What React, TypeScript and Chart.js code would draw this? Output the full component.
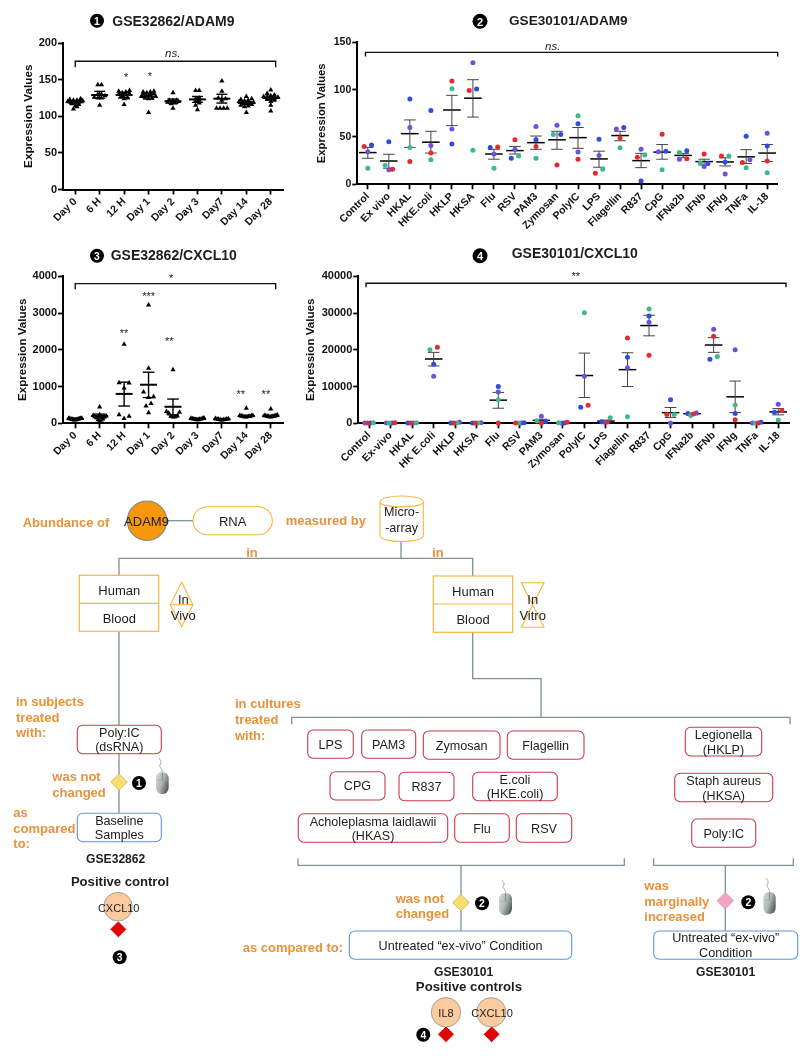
import React, { useEffect, useRef } from "react";
import { Chart, registerables } from "chart.js";

Chart.register(...registerables);

const FONT = "'Liberation Sans', Arial, sans-serif";
const ORANGE = "#E8923A";
const BOX_OR = "#F5B73C";
const BOX_RED = "#C93A48";
const BOX_BLUE = "#5E97DE";
const LINK = "#7F9296";
const DARK = "#1d1d1d";

// ---------- data ----------
const dayLabels = ["Day 0", "6 H", "12 H", "Day 1", "Day 2", "Day 3", "Day7", "Day 14", "Day 28"];

const adam9ByDay = [
  [124, 123, 122, 122, 121, 120, 120, 119, 118, 118, 117, 116, 114, 113, 110],
  [143, 143, 130, 130, 128, 126, 125, 125, 115],
  [135, 134, 133, 132, 131, 130, 129, 128, 126, 125, 124, 116],
  [134, 133, 133, 132, 131, 130, 129, 128, 127, 127, 126, 125, 124, 105],
  [132, 122, 122, 121, 120, 119, 118, 117, 111],
  [135, 135, 125, 124, 122, 120, 118, 115, 109],
  [148, 134, 125, 124, 122, 111, 111, 111, 111],
  [127, 124, 123, 122, 121, 120, 119, 118, 118, 117, 116, 115, 114, 113, 105],
  [136, 131, 129, 128, 127, 126, 126, 125, 124, 123, 122, 120, 115, 107],
];
const adam9DayMean = [119, 129, 129, 127, 120.5, 123, 124, 118, 125];
const adam9DayLow = [117, 124.7, 125.5, 123.5, 117.5, 119, 118, 116, 122.5];
const adam9DayHigh = [121, 134, 132.5, 130.5, 123.5, 127, 130, 120, 127.5];

const cxcl10ByDay = [
  [140, 135, 130, 125, 125, 120, 115, 110, 105, 100, 95, 90],
  [445, 230, 210, 200, 180, 170, 150, 120, 100, 90, 60],
  [2150, 1105, 1100, 960, 230, 190, 130],
  [3220, 1500, 850, 720, 700, 540, 470, 290],
  [1460, 320, 300, 280, 200, 190, 180, 170],
  [145, 135, 130, 125, 120, 115, 110, 105, 100, 95],
  [130, 125, 120, 115, 110, 105, 100, 95, 90],
  [410, 215, 210, 205, 200, 195, 190, 185, 180, 175, 170],
  [390, 225, 215, 210, 205, 200, 195, 190, 185, 180, 170],
];
const cxcl10DayMean = [120, 200, 800, 1050, 450, 120, 110, 195, 195];
const cxcl10DayLow = [105, 150, 470, 700, 230, 105, 95, 180, 180];
const cxcl10DayHigh = [135, 250, 1120, 1390, 660, 135, 125, 210, 210];

const adam9Stim = ["Control", "Ex vivo", "HKAL", "HKE.coli", "HKLP", "HKSA", "Flu", "RSV", "PAM3", "Zymosan", "PolyIC", "LPS", "Flagellin", "R837", "CpG", "IFNa2b", "IFNb", "IFNg", "TNFa", "IL-18"];
const adam9Red = [40, 16, 24, 33, 109, 99, 39.5, 47, 40, 20.5, 26.5, 11.6, 49, 28.5, 53, 27, 32, 30, 23, 24.6];
const adam9Green = [17, 20, 39, 26, 101, 36, 17, 30, 27.5, 52.5, 72.5, 16, 38.5, 31, 15.5, 33.5, 22.5, 30, 17.6, 12.3];
const adam9Blue = [41.5, 45, 90, 78, 42.6, 100.7, 39, 27.5, 47, 52.5, 64, 47.5, 60, 3.5, 35, 35.5, 22, 23.6, 50.7, 40.5];
const adam9Purple = [34.5, 15.5, 60, 41, 58.5, 128.5, 32, 37, 61, 62.5, 34, 30.5, 58.5, 37, 34.5, 26.5, 18.7, 11, 26, 54];
const adam9StimMean = [33.5, 24.6, 53.5, 44.5, 78.5, 91, 32, 35.6, 44, 47, 49.3, 26.8, 51.5, 25, 34, 30.5, 24, 23.6, 29, 33];
const adam9StimLow = [27.5, 17, 39, 33, 62, 71, 26.5, 32, 37, 37, 38, 18, 46, 17.6, 26.5, 28, 20.4, 19.4, 22, 24];
const adam9StimHigh = [39, 31.7, 68, 56, 94, 110.5, 37, 40, 51, 56, 60, 35, 56, 32.7, 42, 32.7, 26.5, 28, 36.6, 42];

const cxclStim = ["Control", "Ex-vivo", "HKAL", "HK E.coli", "HKLP", "HKSA", "Flu", "RSV", "PAM3", "Zymosan", "PolyIC", "LPS", "Flagellin", "R837", "CpG", "IFNa2b", "IFNb", "IFNg", "TNFa", "IL-18"];
const cxclRed = [50, 150, 60, 20700, 50, 50, 100, 100, 100, 300, 4900, 350, 23200, 18500, 2400, 2500, 23700, 1000, 80, 3500];
const cxclGreen = [150, 60, 120, 20000, 100, 60, 6400, 50, 600, 150, 30100, 1500, 1800, 31100, 2400, 2100, 18200, 5000, 60, 900];
const cxclBlue = [80, 80, 100, 16100, 100, 100, 10000, 150, 500, 100, 4400, 400, 18000, 29200, 6400, 2700, 17400, 2700, 300, 3000];
const cxclPurple = [100, 100, 80, 12800, 300, 150, 8500, 60, 1900, 60, 12800, 300, 15100, 27500, 100, 2800, 25600, 20000, 100, 5200];
const cxclMean = [90, 100, 90, 17500, 140, 90, 6300, 90, 800, 150, 13000, 600, 14600, 26600, 2900, 2600, 21300, 7200, 130, 3100];
const cxclLow = [70, 80, 70, 15600, 80, 70, 4100, 70, 400, 80, 7000, 350, 10000, 23800, 1600, 2350, 19300, 2900, 70, 2300];
const cxclHigh = [110, 120, 110, 19300, 200, 110, 8400, 110, 1100, 220, 19100, 850, 19200, 29400, 4300, 2800, 23300, 11500, 190, 4000];

// ---------- chart helpers ----------
type Note = { x: number; y: number; text: string; font: string };

const RED = "#E42A2E";
const GREEN = "#3DB88F";
const BLUE = "#2F4BE0";
const PURPLE = "#6F50DC";

function swarmOffsets(values: number[], windowUnits: number, stepMax: number, maxWidth: number) {
  const order = values.map((v, i) => ({ v, i })).sort((a, b) => a.v - b.v);
  const out = new Array(values.length).fill(0);
  let k = 0;
  while (k < order.length) {
    let e = k;
    while (e + 1 < order.length && order[e + 1].v - order[k].v <= windowUnits) e++;
    const n = e - k + 1;
    if (n > 1) {
      const step = Math.min(stepMax, maxWidth / (n - 1));
      // slots fill from the centre outwards so a band stays level instead of tilting
      const mid = Math.floor((n - 1) / 2);
      for (let j = 0; j < n; j++) {
        const d = Math.ceil(j / 2);
        const slot = j % 2 === 1 ? mid + d : mid - d;
        out[order[k + j].i] = (slot - (n - 1) / 2) * step;
      }
    }
    k = e + 1;
  }
  return out;
}

type Spec = {
  rect: { left: number; top: number; width: number; height: number };
  plot: { l: number; r: number; t: number; b: number };
  labels: string[];
  yMax: number;
  yStep: number;
  titleSize: number;
  tickSize: number;
  xTickSize: number;
  groups: { color: string; style: string; radius: number; perCat: number[][] }[];
  swarm: { px: number; stepMax: number; maxWidth: number };
  mean: number[];
  low: number[];
  high: number[];
  bracket: { x: number; y: number }[];
  notes: Note[];
  stem: { color: string; width: number };
  meanWidth: number;
  meanRadius: number;
  capRadius: number;
};

function buildDatasets(s: Spec) {
  const catPx = (s.plot.r - s.plot.l) / s.labels.length;
  const unitsPerPx = s.yMax / (s.plot.b - s.plot.t);
  const base = { clip: false as const, showLine: false };
  const sets: any[] = [];

  sets.push({ ...base, showLine: true, data: s.bracket, borderColor: "#111", borderWidth: 1.4, pointRadius: 0, tension: 0 });

  const layouts = s.labels.map((_, c) => {
    const all: { g: number; v: number }[] = [];
    s.groups.forEach((g, gi) => g.perCat[c].forEach((v) => all.push({ g: gi, v })));
    const offs = swarmOffsets(all.map((a) => a.v), s.swarm.px * unitsPerPx, s.swarm.stepMax, s.swarm.maxWidth);
    return all.map((a, i) => ({ g: a.g, x: c + offs[i] / catPx, y: a.v }));
  });
  s.groups.forEach((g, gi) => {
    sets.push({
      ...base,
      data: layouts.flat().filter((p) => p.g === gi).map((p) => ({ x: p.x, y: p.y })),
      backgroundColor: g.color,
      borderWidth: 0,
      pointBorderWidth: 0,
      pointStyle: g.style,
      pointRadius: g.radius,
    });
  });

  const stems: any[] = [];
  s.labels.forEach((_, i) => {
    stems.push({ x: i, y: s.low[i] }, { x: i, y: s.high[i] }, { x: i, y: null });
  });
  sets.push({ ...base, showLine: true, spanGaps: false, data: stems, borderColor: s.stem.color, borderWidth: s.stem.width, pointRadius: 0 });

  sets.push({
    ...base,
    data: s.labels.flatMap((_, i) => [{ x: i, y: s.low[i] }, { x: i, y: s.high[i] }]),
    pointStyle: "line",
    pointRadius: s.capRadius,
    pointBorderWidth: s.stem.width,
    pointBorderColor: s.stem.color,
  });

  sets.push({
    ...base,
    data: s.labels.map((_, i) => ({ x: i, y: s.mean[i] })),
    pointStyle: "line",
    pointRadius: s.meanRadius,
    pointBorderWidth: s.meanWidth,
    pointBorderColor: "#000",
  });
  return sets;
}

const notesPlugin = {
  id: "notes",
  afterDatasetsDraw(chart: any, _a: any, opts: any) {
    const { ctx, scales } = chart;
    ctx.save();
    ctx.fillStyle = "#222";
    ctx.textAlign = "center";
    ctx.textBaseline = "middle";
    (opts.items || []).forEach((n: Note) => {
      ctx.font = n.font;
      ctx.fillText(n.text, scales.x.getPixelForValue(n.x), scales.y.getPixelForValue(n.y));
    });
    ctx.restore();
  },
};

function makeChart(canvas: HTMLCanvasElement, s: Spec) {
  const xH = s.rect.top + s.rect.height - s.plot.b;
  const yW = s.plot.l - s.rect.left;
  return new Chart(canvas, {
    type: "scatter",
    data: { datasets: buildDatasets(s) },
    plugins: [notesPlugin],
    options: {
      responsive: false,
      animation: false,
      devicePixelRatio: 1,
      layout: {
        padding: {
          top: s.plot.t - s.rect.top,
          right: s.rect.left + s.rect.width - s.plot.r,
          left: 0,
          bottom: 0,
        },
      },
      plugins: { legend: { display: false }, tooltip: { enabled: false }, title: { display: false }, notes: { items: s.notes } } as any,
      scales: {
        x: {
          type: "linear",
          min: -0.5,
          max: s.labels.length - 0.5,
          afterBuildTicks: (scale: any) => {
            scale.ticks = s.labels.map((_, i) => ({ value: i }));
          },
          afterFit: (scale: any) => {
            scale.height = xH;
          },
          grid: { drawOnChartArea: false, drawTicks: true, tickLength: 5, tickWidth: 1.8, tickColor: "#000" },
          border: { color: "#000", width: 2 },
          ticks: {
            autoSkip: false,
            maxRotation: 45,
            minRotation: 45,
            padding: 1,
            color: "#111",
            font: { family: FONT, size: s.xTickSize, weight: "bold" },
            callback: (v: any) => s.labels[Math.round(Number(v))] ?? "",
          },
        },
        y: {
          type: "linear",
          min: 0,
          max: s.yMax,
          afterFit: (scale: any) => {
            scale.width = yW;
          },
          grid: { drawOnChartArea: false, drawTicks: true, tickLength: 5, tickWidth: 1.8, tickColor: "#000" },
          border: { color: "#000", width: 2 },
          title: {
            display: true,
            text: "Expression Values",
            color: "#111",
            padding: 0,
            font: { family: FONT, size: s.titleSize, weight: "bold" },
          },
          ticks: {
            stepSize: s.yStep,
            padding: 1,
            color: "#111",
            font: { family: FONT, size: s.tickSize, weight: "bold" },
            callback: (v: any) => String(v),
          },
        },
      },
    } as any,
  });
}

const tri = (perCat: number[][]) => [{ color: "#000", style: "triangle", radius: 3, perCat }];
const dots = (r: number[], g: number[], b: number[], p: number[]) => [
  { color: RED, style: "circle", radius: 2.5, perCat: r.map((v) => [v]) },
  { color: GREEN, style: "circle", radius: 2.5, perCat: g.map((v) => [v]) },
  { color: BLUE, style: "circle", radius: 2.5, perCat: b.map((v) => [v]) },
  { color: PURPLE, style: "circle", radius: 2.5, perCat: p.map((v) => [v]) },
];

const NOTE_STAR = `11px ${FONT}`;
const NOTE_NS = `italic 11.5px ${FONT}`;

const specs: Spec[] = [
  {
    rect: { left: 22, top: 31, width: 276, height: 204 },
    plot: { l: 63, r: 283, t: 43, b: 189.5 },
    labels: dayLabels, yMax: 200, yStep: 50, titleSize: 11.7, tickSize: 11, xTickSize: 10.5,
    groups: tri(adam9ByDay),
    swarm: { px: 2.5, stepMax: 3.6, maxWidth: 15 },
    mean: adam9DayMean, low: adam9DayLow, high: adam9DayHigh,
    bracket: [{ x: 0, y: 167 }, { x: 0, y: 175 }, { x: 8.2, y: 175 }, { x: 8.2, y: 167 }],
    notes: [
      { x: 3.99, y: 185, text: "ns.", font: NOTE_NS },
      { x: 2.08, y: 152, text: "*", font: NOTE_STAR },
      { x: 3.05, y: 154, text: "*", font: NOTE_STAR },
    ],
    stem: { color: "#000", width: 1.4 }, meanWidth: 2, meanRadius: 8.5, capRadius: 5.5,
  },
  {
    rect: { left: 315, top: 30, width: 478, height: 210 },
    plot: { l: 357.3, r: 777.7, t: 42.3, b: 184.3 },
    labels: adam9Stim, yMax: 150, yStep: 50, titleSize: 11.3, tickSize: 10.5, xTickSize: 10.5,
    groups: dots(adam9Red, adam9Green, adam9Blue, adam9Purple),
    swarm: { px: 4.5, stepMax: 7.4, maxWidth: 7.4 },
    mean: adam9StimMean, low: adam9StimLow, high: adam9StimHigh,
    bracket: [{ x: -0.11, y: 135 }, { x: -0.11, y: 139.4 }, { x: 19.5, y: 139.4 }, { x: 19.5, y: 135 }],
    notes: [{ x: 8.8, y: 145, text: "ns.", font: NOTE_NS }],
    stem: { color: "#444", width: 1 }, meanWidth: 1.5, meanRadius: 8.8, capRadius: 5.8,
  },
  {
    rect: { left: 16, top: 264, width: 282, height: 214 },
    plot: { l: 63, r: 283, t: 276.3, b: 423.3 },
    labels: dayLabels, yMax: 4000, yStep: 1000, titleSize: 11.6, tickSize: 11, xTickSize: 10.5,
    groups: tri(cxcl10ByDay),
    swarm: { px: 6, stepMax: 5, maxWidth: 13 },
    mean: cxcl10DayMean, low: cxcl10DayLow, high: cxcl10DayHigh,
    bracket: [{ x: 0, y: 3650 }, { x: 0, y: 3800 }, { x: 8.2, y: 3800 }, { x: 8.2, y: 3650 }],
    notes: [
      { x: 3.92, y: 3920, text: "*", font: NOTE_STAR },
      { x: 2, y: 2440, text: "**", font: NOTE_STAR },
      { x: 3, y: 3440, text: "***", font: NOTE_STAR },
      { x: 3.85, y: 2200, text: "**", font: NOTE_STAR },
      { x: 6.77, y: 770, text: "**", font: NOTE_STAR },
      { x: 7.8, y: 770, text: "**", font: NOTE_STAR },
    ],
    stem: { color: "#000", width: 1.4 }, meanWidth: 2, meanRadius: 8.5, capRadius: 5.8,
  },
  {
    rect: { left: 304, top: 264, width: 500, height: 214 },
    plot: { l: 358.3, r: 789, t: 276.3, b: 423.3 },
    labels: cxclStim, yMax: 40000, yStep: 10000, titleSize: 11.6, tickSize: 11, xTickSize: 10.5,
    groups: dots(cxclRed, cxclGreen, cxclBlue, cxclPurple),
    swarm: { px: 4.5, stepMax: 7.4, maxWidth: 8.5 },
    mean: cxclMean, low: cxclLow, high: cxclHigh,
    bracket: [{ x: -0.14, y: 37000 }, { x: -0.14, y: 38100 }, { x: 19.36, y: 38100 }, { x: 19.36, y: 37000 }],
    notes: [{ x: 9.6, y: 39800, text: "**", font: NOTE_STAR }],
    stem: { color: "#444", width: 1 }, meanWidth: 1.5, meanRadius: 8.8, capRadius: 5.8,
  },
];

// ---------- diagram helpers ----------
function T(p: { x: number; y: number; s?: number; b?: boolean; c?: string; a?: "start" | "middle" | "end"; children: any }) {
  return (
    <text x={p.x} y={p.y} fontFamily={FONT} fontSize={p.s ?? 13} fontWeight={p.b ? 700 : 400} fill={p.c ?? DARK}
      textAnchor={p.a ?? "middle"} dominantBaseline="central">{p.children}</text>
  );
}
const O = (x: number, y: number, t: string) => <T x={x} y={y} b c={ORANGE} a="start">{t}</T>;

function Num({ x, y, n, d = 14 }: { x: number; y: number; n: number; d?: number }) {
  return (
    <g>
      <circle cx={x} cy={y} r={d / 2} fill="#000" />
      <T x={x} y={y + 0.3} s={d * 0.74} b c="#fff">{n}</T>
    </g>
  );
}

function RBox({ x1, y1, x2, y2, c = BOX_RED, lines }: { x1: number; y1: number; x2: number; y2: number; c?: string; lines: [string, number][] }) {
  return (
    <g>
      <rect x={x1} y={y1} width={x2 - x1} height={y2 - y1} rx={5.5} fill="#fff" stroke={c} strokeWidth={1.1} />
      {lines.map(([t, y], i) => <T key={i} x={(x1 + x2) / 2} y={y} s={12.6}>{t}</T>)}
    </g>
  );
}

function Diamond({ x, y, fill, stroke = "#D9B24A", h = 8.3 }: { x: number; y: number; fill: string; stroke?: string; h?: number }) {
  return <polygon points={`${x},${y - h} ${x + h},${y} ${x},${y + h} ${x - h},${y}`} fill={fill} stroke={stroke} strokeWidth={0.8} />;
}

function Mouse({ x1, x2, y1, y2, wire }: { x1: number; x2: number; y1: number; y2: number; wire: number }) {
  const cx = (x1 + x2) / 2;
  return (
    <g>
      <path d={`M${cx},${y1} C${cx},${y1 - 4} ${cx - 4},${y1 - 5} ${cx - 2},${(y1 + wire) / 2 - 1} S${cx - 3},${wire + 2} ${cx - 3},${wire}`} fill="none" stroke="#8b9598" strokeWidth={0.8} />
      <rect x={x1} y={y1} width={x2 - x1} height={y2 - y1} rx={(x2 - x1) / 2} fill="url(#mouseGrad)" />
      <line x1={cx} y1={y1 + 1} x2={cx} y2={y1 + (y2 - y1) * 0.38} stroke="#6d7678" strokeWidth={0.7} />
      <line x1={x1 + 0.5} y1={y1 + (y2 - y1) * 0.38} x2={x2 - 0.5} y2={y1 + (y2 - y1) * 0.38} stroke="#9aa3a5" strokeWidth={0.5} />
    </g>
  );
}

function Link({ d }: { d: string }) {
  return <path d={d} fill="none" stroke={LINK} strokeWidth={1.3} />;
}

function Diagram() {
  return (
    <svg width={805} height={1060} style={{ position: "absolute", left: 0, top: 0, pointerEvents: "none" }}>
      <defs>
        <linearGradient id="mouseGrad" x1="0" y1="0" x2="1" y2="0.6">
          <stop offset="0" stopColor="#d5dada" />
          <stop offset="0.55" stopColor="#b0b8b8" />
          <stop offset="1" stopColor="#59625f" />
        </linearGradient>
      </defs>

      {/* chart titles */}
      <Num x={97} y={20.7} n={1} />
      <T x={112.3} y={21} s={14} b a="start">GSE32862/ADAM9</T>
      <Num x={480} y={21.3} n={2} d={15} />
      <T x={509} y={20} s={13.6} b a="start">GSE30101/ADAM9</T>
      <Num x={97} y={255.7} n={3} />
      <T x={110.7} y={255} s={14} b a="start">GSE32862/CXCL10</T>
      <Num x={480} y={255.7} n={4} d={15} />
      <T x={511.7} y={253} s={14} b a="start">GSE30101/CXCL10</T>

      {/* links */}
      <Link d="M167,520.7 H193" />
      <Link d="M401,541 V558.3 M119,575.5 V558.3 H472.7 V576" />
      <Link d="M119,631.3 V725.3 M119,753.7 V813.3" />
      <Link d="M472.7,632 V678.7 H541 V717.3" />
      <Link d="M291.7,724.3 V717.3 H790 V724.3" />
      <Link d="M298,858.3 V865.3 H624.3 V858.3" />
      <Link d="M653.7,858.3 V865.3 H793.3 V858.3" />
      <Link d="M461,865.3 V931" />
      <Link d="M725.3,865.3 V931" />

      {/* top row */}
      <circle cx={147} cy={520.7} r={19.7} fill="#F7970C" stroke="#7E8A85" strokeWidth={1.1} />
      <T x={146.5} y={521.5}>ADAM9</T>
      <rect x={193} y={506.7} width={79.3} height={28} rx={14} fill="#fff" stroke={BOX_OR} strokeWidth={1.1} />
      <T x={232.7} y={521.5}>RNA</T>
      {O(22.7, 522, "Abundance of")}
      {O(285.7, 520.7, "measured by")}
      <path d="M380,502 C380,494 423.3,494 423.3,502 V535.5 C423.3,543.5 380,543.5 380,535.5 Z" fill="#fff" stroke={BOX_OR} strokeWidth={1.1} />
      <path d="M380,502 C380,508.5 423.3,508.5 423.3,502" fill="none" stroke={BOX_OR} strokeWidth={1.1} />
      <T x={401.6} y={511.7} s={12.6}>Micro-</T>
      <T x={401.6} y={527.7} s={12.6}>-array</T>
      <T x={252} y={552} b c={ORANGE}>in</T>
      <T x={438} y={552} b c={ORANGE}>in</T>

      {/* Human / Blood left */}
      <rect x={79.3} y={575.3} width={79.4} height={56} fill="#fff" stroke={BOX_OR} strokeWidth={1.2} />
      <line x1={79.3} y1={603.3} x2={158.7} y2={603.3} stroke={BOX_OR} strokeWidth={1.2} />
      <T x={119.3} y={590}>Human</T>
      <T x={119.3} y={618}>Blood</T>
      <polygon points="181.7,582.3 193,604.7 181.7,626.7 170.3,604.7" fill="#fff" stroke={BOX_OR} strokeWidth={1.1} />
      <line x1={170.3} y1={604.7} x2={193} y2={604.7} stroke={BOX_OR} strokeWidth={1.1} />
      <T x={183.3} y={599}>In</T>
      <T x={183.3} y={615}>Vivo</T>

      {/* Human / Blood right */}
      <rect x={433.3} y={576} width={79.4} height={56.3} fill="#fff" stroke={BOX_OR} strokeWidth={1.2} />
      <line x1={433.3} y1={604} x2={512.7} y2={604} stroke={BOX_OR} strokeWidth={1.2} />
      <T x={473} y={591}>Human</T>
      <T x={473} y={619}>Blood</T>
      <polygon points="521.3,582.7 544,582.7 521.3,627.3 544,627.3" fill="#fff" stroke={BOX_OR} strokeWidth={1.1} />
      <T x={532.7} y={599}>In</T>
      <T x={532.7} y={615}>Vitro</T>

      {/* left column */}
      {O(16, 701.7, "in subjects")}
      {O(16, 717.3, "treated")}
      {O(16, 732.7, "with:")}
      <RBox x1={77.3} y1={725.3} x2={161.3} y2={753.7} lines={[["Poly:IC", 733.3], ["(dsRNA)", 747.3]]} />
      {O(52.3, 776.7, "was not")}
      {O(52.3, 792.3, "changed")}
      <Diamond x={119} y={782} fill="#F8DD70" />
      <Num x={139} y={783} n={1} />
      <Mouse x1={156} x2={168.7} y1={772} y2={794} wire={758} />
      {O(13.3, 812.7, "as")}
      {O(13.3, 828.3, "compared")}
      {O(13.3, 843.3, "to:")}
      <RBox x1={77.3} y1={813.3} x2={161.3} y2={841.7} c={BOX_BLUE} lines={[["Baseline", 820.7], ["Samples", 835.3]]} />
      <T x={115.7} y={859.3} s={12.1} b>GSE32862</T>
      <T x={120} y={881.3} s={13.1} b>Positive control</T>
      <circle cx={118} cy={906.7} r={14.3} fill="#FACB9F" stroke="#9a9a94" strokeWidth={0.9} />
      <T x={118.7} y={907.7} s={11}>CXCL10</T>
      <Diamond x={118.3} y={929.3} fill="#E00606" stroke="#e6e6e6" />
      <Num x={119.7} y={957.3} n={3} />

      {/* middle column */}
      {O(235, 703.3, "in cultures")}
      {O(235, 719, "treated")}
      {O(235, 735, "with:")}
      <RBox x1={307.7} y1={730} x2={353.3} y2={758.3} lines={[["LPS", 744.5]]} />
      <RBox x1={361.7} y1={730} x2={415.7} y2={758.3} lines={[["PAM3", 744.5]]} />
      <RBox x1={423.3} y1={731} x2={500} y2={759.3} lines={[["Zymosan", 745.5]]} />
      <RBox x1={507.3} y1={731} x2={584} y2={759.3} lines={[["Flagellin", 745.5]]} />
      <RBox x1={330} y1={771.7} x2={385} y2={800} lines={[["CPG", 786]]} />
      <RBox x1={399} y1={772.3} x2={454} y2={800.7} lines={[["R837", 787]]} />
      <RBox x1={472.7} y1={772.3} x2={557.3} y2={800.7} lines={[["E.coli", 780], ["(HKE.coli)", 794.3]]} />
      <RBox x1={298.3} y1={813.7} x2={447.7} y2={842.3} lines={[["Acholeplasma laidlawii", 821.7], ["(HKAS)", 835.7]]} />
      <RBox x1={454.7} y1={813.7} x2={509.3} y2={842.3} lines={[["Flu", 829]]} />
      <RBox x1={516.3} y1={813.7} x2={571.7} y2={842.3} lines={[["RSV", 829]]} />
      {O(395.7, 898, "was not")}
      {O(395.7, 913, "changed")}
      <Diamond x={461} y={902.7} fill="#F8DD70" />
      <Num x={482} y={903.3} n={2} />
      <Mouse x1={499} x2={512} y1={892.7} y2={915.3} wire={880} />
      {O(242.7, 947.7, "as compared to:")}
      <RBox x1={349.3} y1={931} x2={571.7} y2={959.3} c={BOX_BLUE} lines={[["Untreated “ex-vivo” Condition", 945.7]]} />
      <T x={463.7} y={972} s={12.1} b>GSE30101</T>
      <T x={469} y={986.7} s={13.2} b>Positive controls</T>
      <circle cx={446} cy={1012.3} r={14.7} fill="#FACB9F" stroke="#9a9a94" strokeWidth={0.9} />
      <T x={446} y={1012.6} s={11}>IL8</T>
      <circle cx={491.3} cy={1012.3} r={14.7} fill="#FACB9F" stroke="#9a9a94" strokeWidth={0.9} />
      <T x={492} y={1012.6} s={11}>CXCL10</T>
      <Diamond x={446} y={1034.3} fill="#E00606" stroke="#e6e6e6" />
      <Diamond x={491.7} y={1034.3} fill="#E00606" stroke="#e6e6e6" />
      <Num x={423.3} y={1034.7} n={4} />

      {/* right column */}
      <RBox x1={685.3} y1={727.3} x2={761.7} y2={756} lines={[["Legionella", 735], ["(HKLP)", 750]]} />
      <RBox x1={674.7} y1={773.3} x2={772.7} y2={801.7} lines={[["Staph aureus", 780.7], ["(HKSA)", 795.7]]} />
      <RBox x1={691.7} y1={819} x2={755.7} y2={847.3} lines={[["Poly:IC", 833.7]]} />
      {O(644.3, 885.7, "was")}
      {O(644.3, 901, "marginally")}
      {O(644.3, 916, "increased")}
      <Diamond x={725.3} y={900.7} fill="#F4A3C4" stroke="#c9a0b0" />
      <Num x={748.3} y={902.3} n={2} />
      <Mouse x1={763.3} x2={775.7} y1={891.7} y2={914} wire={878} />
      <RBox x1={653.7} y1={931} x2={797.7} y2={959.3} c={BOX_BLUE} lines={[["Untreated “ex-vivo”", 938.3], ["Condition", 952.7]]} />
      <T x={725.7} y={972} s={12.1} b>GSE30101</T>
    </svg>
  );
}

function PlotCanvas({ spec }: { spec: Spec }) {
  const ref = useRef<HTMLCanvasElement>(null);
  useEffect(() => {
    const chart = makeChart(ref.current as HTMLCanvasElement, spec);
    return () => chart.destroy();
  }, [spec]);
  const r = spec.rect;
  return (
    <canvas ref={ref} width={r.width} height={r.height}
      style={{ position: "absolute", left: r.left, top: r.top, width: r.width, height: r.height }} />
  );
}

export default function App() {
  return (
    <div style={{ position: "absolute", left: 0, top: 0, width: 805, height: 1060, overflow: "hidden", background: "#fff", filter: "blur(0.3px)" }}>
      {specs.map((s, i) => <PlotCanvas key={i} spec={s} />)}
      <Diagram />
    </div>
  );
}
